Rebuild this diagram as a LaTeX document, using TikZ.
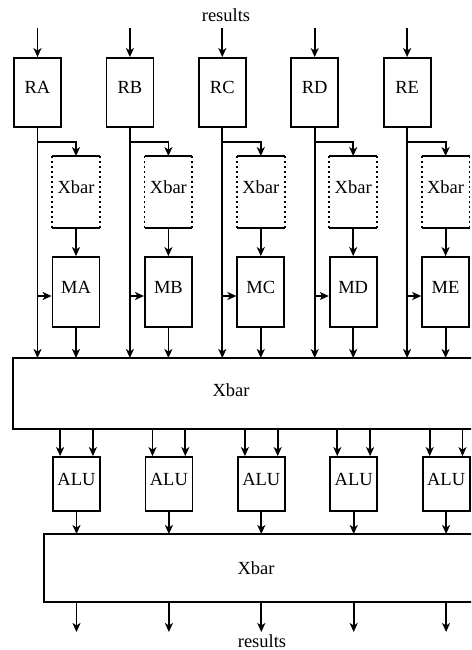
\documentclass[tikz,border=0pt]{standalone}
\usepackage{fontspec}
\setmainfont{Liberation Serif}
\usetikzlibrary{arrows.meta,calc}
\begin{document}
\begin{tikzpicture}[x=1pt,y=-1pt,line width=1.8pt,
  >={Stealth[length=9pt,width=8pt,inset=2.5pt]},
  lbl/.style={font=\fontsize{18.5}{20}\selectfont},
  box/.style={draw,minimum width=47pt,text height=12pt,text depth=9pt,inner sep=0pt,lbl},
  sbox/.style={minimum width=46pt,text height=12pt,text depth=9pt,inner sep=0pt,lbl},
  dotline/.style={dash pattern=on 1.8pt off 3.2pt},
  bigbox/.style={minimum height=#1,inner sep=0pt,anchor=north west},
  txt/.style={inner sep=0pt,lbl}]
\clip (0,0) rectangle (471,650);
\node[txt] (rtop) at (226,15) {results};
\node[txt] (rbot) at (262,641) {results};
\node[bigbox=69pt,minimum width=480pt] (big1) at (13,358) {};
\draw (big1.north east) -- (big1.north west) -- (big1.south west) -- (big1.south east);
\node[txt] (big1lab) at (231,390) {Xbar};
\node[bigbox=66pt,minimum width=450pt] (big2) at (44,534) {};
\draw (big2.north east) -- (big2.north west) -- (big2.south west) -- (big2.south east);
\node[txt] (big2lab) at (256,568) {Xbar};
\foreach \L [count=\i from 0] in {A,B,C,D,E}{
  \pgfmathsetmacro{\dx}{92.4*\i}
  \node[box,minimum height=69pt] (R\L) at (37.5+\dx,92.5) {R\L};
  \coordinate (in\L) at (37.5+\dx,28);
  \draw[->] (in\L) -- (R\L.north);
  \node[sbox,minimum height=70pt] (X\L) at (76+\dx,192) {Xbar};
  \draw (X\L.north west) -- (X\L.north east) (X\L.south west) -- (X\L.south east);
  \draw[dotline] (X\L.north west) -- (X\L.south west) (X\L.north east) -- (X\L.south east);
  \node[box,minimum height=70pt] (M\L) at (76+\dx,292) {M\L};
  \node[box,minimum height=54pt] (U\L) at (76.5+\dx,484) {ALU};
  \coordinate (br\L) at (37.5+\dx,142);
  \draw[->] (R\L.south) -- (R\L.south |- big1.north);
  \draw[->] (br\L) -| (X\L.north);
  \draw[->] (X\L.south) -- (M\L.north);
  \coordinate (mw\L) at ($(M\L.west)+(0,4)$);
  \draw[->] (mw\L -| R\L.south) -- (mw\L);
  \draw[->] (M\L.south) -- (M\L.south |- big1.north);
  \coordinate (ua\L) at ($(U\L.north west)+(8,0)$);
  \coordinate (ub\L) at ($(U\L.north east)+(-8,0)$);
  \draw[->] (ua\L |- big1.south) -- (ua\L);
  \draw[->] (ub\L |- big1.south) -- (ub\L);
  \draw[->] (U\L.south) -- (U\L.south |- big2.north);
  \coordinate (out\L) at (76.5+\dx,632);
  \draw[->] (U\L.south |- big2.south) -- (out\L);
}
\end{tikzpicture}
\end{document}
